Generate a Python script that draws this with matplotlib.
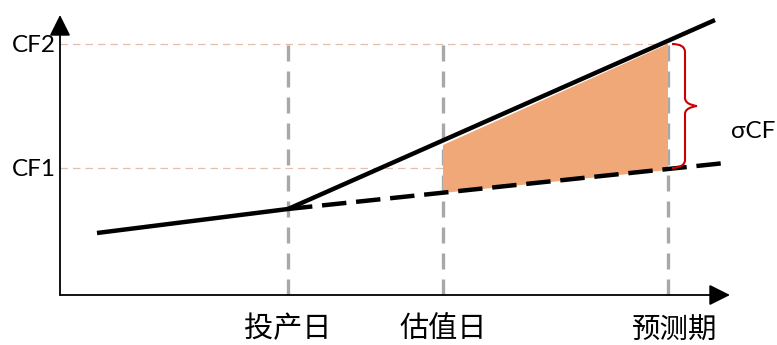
import matplotlib
matplotlib.use("Agg")
import matplotlib.pyplot as plt
from matplotlib.path import Path
from matplotlib.patches import PathPatch, Polygon

# ---- data (chart units: origin at axes corner, y upward) ----
event_labels = ["投产日", "估值日", "预测期"]
event_x = [228, 383, 608]

solid_x = [37, 228, 655]
solid_y = [62, 86, 275]

dashed_x = [228, 665]
dashed_y = [86, 132]

cf_labels = ["CF1", "CF2"]
cf_levels = [127, 251]

fill_x = [383, 608]
fill_top = [150, 251]
fill_bottom = [102, 125]

sigma_label = "σCF"

# ---- figure ----
fig = plt.figure(figsize=(7.77, 3.45), dpi=100)
ax = fig.add_axes([0, 0, 1, 1])
ax.set_xlim(-60, 717)
ax.set_ylim(-50, 295)
ax.axis("off")

latin = ["Lato", "DejaVu Sans"]
cjk = ["Noto Sans CJK SC", "DejaVu Sans"]

# CF guide lines
for lvl, lab in zip(cf_levels, cf_labels):
    ax.plot([0, event_x[-1]], [lvl, lvl], color="#e3bfae", lw=0.9,
            dashes=(6, 4), zorder=1)
    ax.text(-4, lvl - 1, lab, ha="right", va="center", fontsize=17.5,
            family=latin, color="black")

# vertical gray dashed lines
for ex in event_x:
    ax.plot([ex, ex], [0, 255], color="#a8a8a8", lw=2.4,
            dashes=(4.8, 3), zorder=2)

# orange filled area
poly = Polygon([(fill_x[0], fill_bottom[0]), (fill_x[0], fill_top[0]),
                (fill_x[1], fill_top[1]), (fill_x[1], fill_bottom[1])],
               closed=True, facecolor="#F0A878", edgecolor="none", zorder=3)
ax.add_patch(poly)

# lines
ax.plot(solid_x, solid_y, color="black", lw=3.2, solid_capstyle="butt", zorder=5)
ax.plot(dashed_x, dashed_y, color="black", lw=3.2, dashes=(5.5, 2.2), zorder=5)

# axes arrows
ax.annotate("", xy=(0, 280), xytext=(0, 0),
            arrowprops=dict(arrowstyle="-|>", mutation_scale=32, lw=1.3,
                            color="black", shrinkA=0, shrinkB=0), zorder=6)
ax.annotate("", xy=(670, 0), xytext=(0, 0),
            arrowprops=dict(arrowstyle="-|>", mutation_scale=32, lw=1.3,
                            color="black", shrinkA=0, shrinkB=0), zorder=6)

# curly brace
bx0, bx1, bx2 = 612, 625, 637
yb, yt = cf_levels[0], cf_levels[1]
ym = (yb + yt) / 2
verts = [
    (bx0, yt), (bx1, yt), (bx1, yt - 8),
    (bx1, ym + 8),
    (bx1, ym + 1), (bx2, ym), (bx2, ym),
    (bx2, ym), (bx1, ym - 1), (bx1, ym - 8),
    (bx1, yb + 8),
    (bx1, yb), (bx0, yb), (bx0, yb),
]
codes = [Path.MOVETO, Path.CURVE3, Path.CURVE3,
         Path.LINETO,
         Path.CURVE4, Path.CURVE4, Path.CURVE4,
         Path.CURVE4, Path.CURVE4, Path.CURVE4,
         Path.LINETO,
         Path.CURVE4, Path.CURVE4, Path.CURVE4]
ax.add_patch(PathPatch(Path(verts, codes), facecolor="none",
                       edgecolor="#cc0000", lw=1.5, zorder=6))
ax.text(671, 164, sigma_label, ha="left", va="center", fontsize=17.5,
        family=latin, color="black")

# event labels
for ex, lab in zip(event_x, event_labels):
    fs = 21 if lab != "预测期" else 20.5
    xx = ex if lab != "预测期" else ex + 7
    yy = -34 if lab != "预测期" else -36
    ax.text(xx, yy, lab, ha="center", va="center", fontsize=fs,
            family=cjk, color="black")

fig.savefig("out.png", dpi=100)
